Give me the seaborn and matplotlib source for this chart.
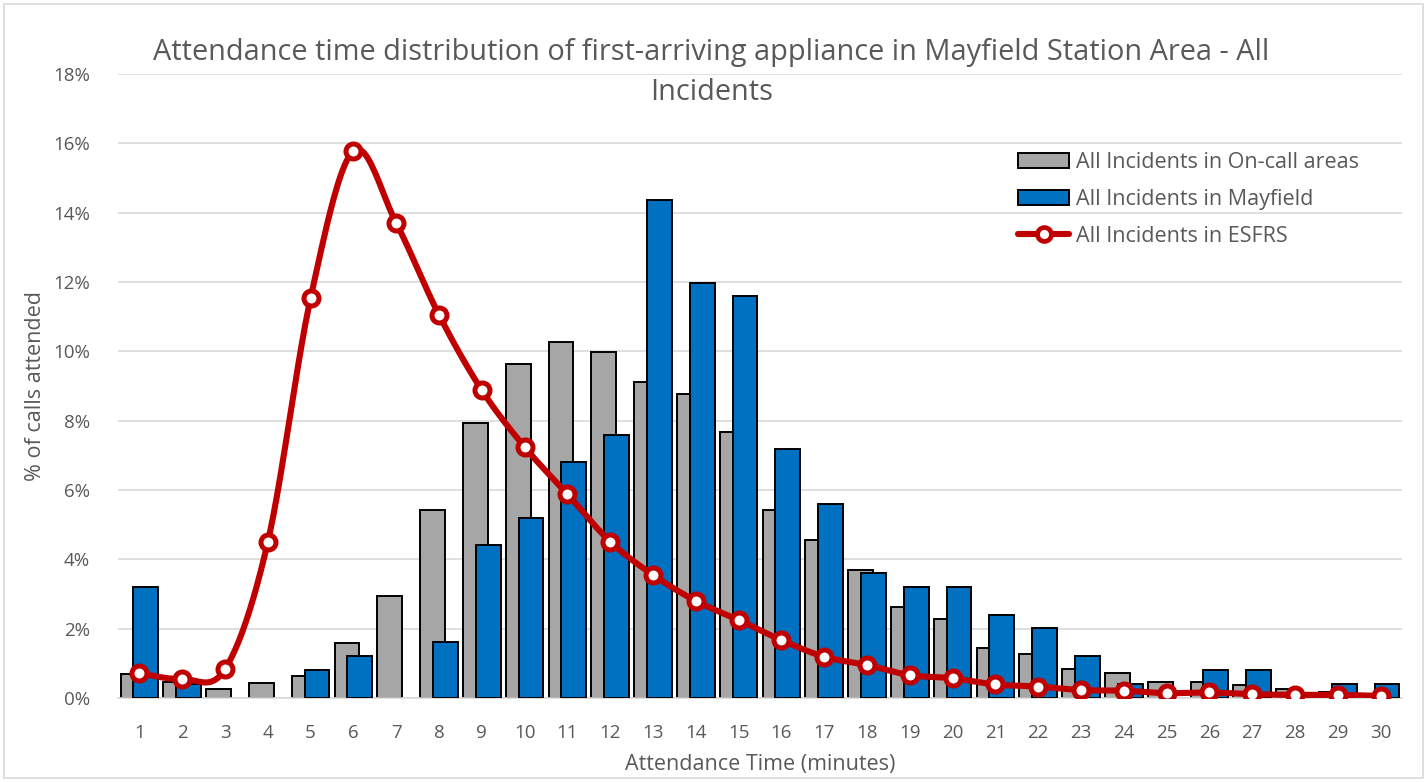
import numpy as np
import pandas as pd
import matplotlib
matplotlib.use("Agg")
import matplotlib.pyplot as plt
import seaborn as sns
from matplotlib.patches import Patch, Rectangle
from matplotlib.lines import Line2D

minutes = list(range(1, 31))
on_call = [0.69, 0.45, 0.26, 0.43, 0.64, 1.58, 2.93, 5.42, 7.93, 9.63,
           10.27, 9.98, 9.12, 8.77, 7.66, 5.42, 4.56, 3.69, 2.62, 2.27,
           1.43, 1.26, 0.84, 0.71, 0.45, 0.47, 0.37, 0.25, 0.18, 0.10]
mayfield = [3.19, 0.40, 0.0, 0.0, 0.81, 1.21, 0.0, 1.61, 4.40, 5.20,
            6.80, 7.59, 14.36, 11.97, 11.60, 7.18, 5.60, 3.60, 3.19, 3.19,
            2.39, 2.01, 1.21, 0.40, 0.0, 0.81, 0.81, 0.0, 0.40, 0.40]
esfrs = [0.71, 0.55, 0.83, 4.50, 11.54, 15.78, 13.70, 11.05, 8.88, 7.24,
         5.88, 4.51, 3.55, 2.80, 2.25, 1.67, 1.19, 0.95, 0.66, 0.57,
         0.39, 0.33, 0.23, 0.21, 0.14, 0.16, 0.11, 0.09, 0.09, 0.06]

title = ("Attendance time distribution of first-arriving appliance in Mayfield Station Area - All\n"
         "Incidents")
labels = ["All Incidents in On-call areas", "All Incidents in Mayfield", "All Incidents in ESFRS"]

GRAY = "#A6A6A6"
BLUE = "#0070C0"
RED = "#C00000"
TXT = "#595959"
GRID = "#D9D9D9"

sns.set_theme(style="white")
plt.rcParams["font.family"] = ["Open Sans", "DejaVu Sans"]

df = pd.DataFrame({"minute": minutes, "on_call": on_call,
                   "mayfield": mayfield, "esfrs": esfrs})
shift = 0.15

fig = plt.figure(figsize=(14.27, 7.82), dpi=100)
ax = fig.add_axes([0.0827, 0.1074, 0.8998, 0.798])

sns.barplot(x=df["minute"] - shift, y=df["on_call"], native_scale=True,
            color=GRAY, edgecolor="black", linewidth=1.4, width=0.58,
            saturation=1, ax=ax, zorder=2)
sns.barplot(x=df["minute"] + shift, y=df["mayfield"], native_scale=True,
            color=BLUE, edgecolor="black", linewidth=1.4, width=0.58,
            saturation=1, ax=ax, zorder=3)
# empty categories should not leave an outline on the axis
for p in ax.patches:
    if p.get_height() == 0:
        p.set_visible(False)

# smoothed line like Excel (bezier through the points)
x = df["minute"].to_numpy(float)
y = df["esfrs"].to_numpy(float)
px = np.concatenate([[x[0]], x, [x[-1]]])
py = np.concatenate([[y[0]], y, [y[-1]]])
t = np.linspace(0, 1, 25)[:, None]
sx, sy = [], []
for i in range(1, len(px) - 2):
    p0 = np.array([px[i], py[i]])
    p3 = np.array([px[i + 1], py[i + 1]])
    c1 = p0 + (np.array([px[i + 1], py[i + 1]]) - np.array([px[i - 1], py[i - 1]])) / 6
    c2 = p3 - (np.array([px[i + 2], py[i + 2]]) - np.array([px[i], py[i]])) / 6
    pts = ((1 - t) ** 3) * p0 + 3 * ((1 - t) ** 2) * t * c1 + 3 * (1 - t) * t ** 2 * c2 + t ** 3 * p3
    sx.extend(pts[:, 0])
    sy.extend(pts[:, 1])
ax.plot(sx, sy, color=RED, lw=4.4, zorder=4, solid_capstyle="round")
ax.plot(x, y, ls="none", marker="o", ms=10.8, mfc="white", mec=RED, mew=3.6, zorder=5)

ax.set_xlim(0.5, 30.5)
ax.set_ylim(0, 18)
ax.set_xticks(minutes)
ax.set_xticklabels([str(m) for m in minutes])
ax.set_yticks(range(0, 19, 2))
ax.set_yticklabels([f"{v}%" for v in range(0, 19, 2)])
ax.yaxis.grid(True, color=GRID, lw=1.2, zorder=0)
ax.set_axisbelow(True)
for s in ["top", "right", "left"]:
    ax.spines[s].set_visible(False)
ax.spines["bottom"].set_color(GRID)
ax.spines["bottom"].set_linewidth(1.2)
ax.tick_params(axis="both", length=0, labelsize=13.5, colors=TXT)
ax.tick_params(axis="y", pad=20)
ax.tick_params(axis="x", pad=19)
ax.set_xlabel("Attendance Time (minutes)", fontsize=15.5, color=TXT, labelpad=8)
ax.set_ylabel("% of calls attended", fontsize=15.5, color=TXT, labelpad=5)

fig.text(0.4985, 0.952, title, ha="center", va="top", fontsize=20.8,
         color=TXT, linespacing=1.5)

handles = [Patch(facecolor=GRAY, edgecolor="black", lw=1.4),
           Patch(facecolor=BLUE, edgecolor="black", lw=1.4),
           Line2D([], [], color=RED, lw=4.4, marker="o", ms=10, mfc="white", mec=RED, mew=3.4)]
ax.legend(handles, labels, loc="upper left", bbox_to_anchor=(0.694, 0.888),
          frameon=False, fontsize=15.5, labelcolor=TXT, handlelength=2.4,
          handletextpad=0.3, labelspacing=0.73, borderaxespad=0)

fig.patches.append(Rectangle((0.003, 0.005), 0.994, 0.99, transform=fig.transFigure,
                             fill=False, edgecolor=GRID, lw=1.2))

fig.savefig("out.png", dpi=100)
